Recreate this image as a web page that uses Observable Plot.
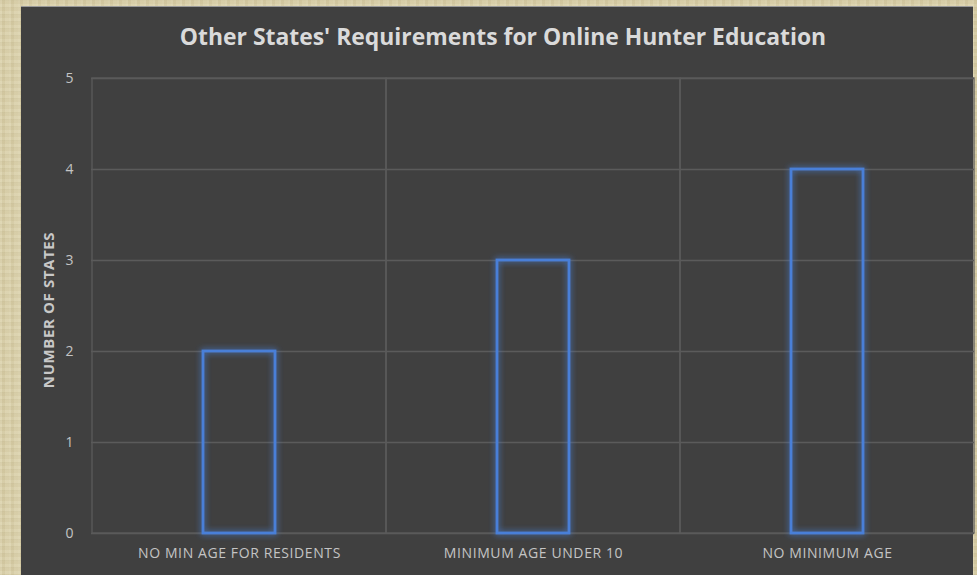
<!DOCTYPE html>
<html>
<head>
<meta charset="utf-8">
<script src="https://cdn.jsdelivr.net/npm/d3@7"></script>
<script src="https://cdn.jsdelivr.net/npm/@observablehq/plot@0.6"></script>
<style>
  html, body { margin: 0; padding: 0; }
  body {
    width: 977px; height: 575px; overflow: hidden; position: relative;
    background-color: #d8cea8;
    background-image:
      repeating-linear-gradient(90deg, rgba(255,255,240,0.10) 0 2px, rgba(150,135,90,0.07) 2px 5px, rgba(255,255,240,0.05) 5px 9px),
      repeating-linear-gradient(0deg, rgba(120,105,60,0.06) 0 1px, rgba(255,255,235,0.08) 1px 4px, rgba(160,140,90,0.05) 4px 7px);
    font-family: "Open Sans", sans-serif;
  }
  #panel {
    position: absolute; left: 21px; top: 6px; width: 952px; height: 580px;
    background: #404040; border-top: 1px solid #9a9a9a;
  }
  #title {
    position: absolute; left: 27px; width: 952px; top: 21px;
    text-align: center; color: #dadada; font-weight: 700; font-size: 22.9px;
    font-family: "Open Sans", sans-serif;
  }
  #ylabel {
    position: absolute; left: 48px; top: 310px;
    transform: translate(-50%, -50%) rotate(-90deg);
    color: #c8c8c8; font-weight: 700; font-size: 15px; letter-spacing: 0.6px; white-space: nowrap;
    font-family: "Open Sans", sans-serif;
  }
  #chart { position: absolute; left: 0; top: 0; }
</style>
</head>
<body>
<div id="panel"></div>
<div id="chart"></div>
<div id="title">Other States' Requirements for Online Hunter Education</div>
<div id="ylabel">NUMBER OF STATES</div>
<script>
const categories = ["NO MIN AGE FOR RESIDENTS", "MINIMUM AGE UNDER 10", "NO MINIMUM AGE"];
const values = [2, 3, 4];
const yTicks = [0, 1, 2, 3, 4, 5];
const yMax = 5;

const data = categories.map((c, i) => ({category: c, value: values[i]}));

const plot = Plot.plot({
  width: 977,
  height: 575,
  marginLeft: 91,
  marginRight: 3,
  marginTop: 78,
  marginBottom: 42,
  style: {background: "transparent", color: "#c4c4c4", fontFamily: "Open Sans, sans-serif"},
  x: {domain: categories, padding: 0, label: null},
  y: {domain: [0, yMax], label: null},
  marks: [
    Plot.ruleY(yTicks, {stroke: "#5b5b5b", strokeWidth: 1.3}),
    Plot.barY(categories, {x: d => d, y1: 0, y2: yMax, fill: "none", stroke: "#5b5b5b", strokeWidth: 1.3}),
    Plot.barY(data, {x: "category", y: "value", fill: "none", stroke: "#4a7fd8", strokeWidth: 2.8, insetLeft: 111, insetRight: 111}),
    Plot.axisY({ticks: yTicks, tickFormat: d3.format("d"), tickSize: 0, tickPadding: 18, fontSize: 14, label: null, color: "#c4c4c4"}),
    Plot.axisX({tickSize: 0, tickPadding: 15, fontSize: 14, label: null, color: "#c4c4c4"})
  ]
});

// glow filter for bar outlines
const ns = "http://www.w3.org/2000/svg";
const defs = document.createElementNS(ns, "defs");
defs.innerHTML = `<filter id="glow" x="-30%" y="-30%" width="160%" height="160%">
  <feGaussianBlur in="SourceGraphic" stdDeviation="3" result="b"/>
  <feMerge><feMergeNode in="b"/><feMergeNode in="SourceGraphic"/></feMerge>
</filter>`;
plot.prepend(defs);
plot.querySelectorAll("g[aria-label='bar']").forEach((g, i) => {
  if (i === 1) g.setAttribute("filter", "url(#glow)");
});
plot.querySelectorAll("g[aria-label='x-axis tick label'] text").forEach(t => t.style.letterSpacing = "0.6px");
document.getElementById("chart").appendChild(plot);
</script>
</body>
</html>
